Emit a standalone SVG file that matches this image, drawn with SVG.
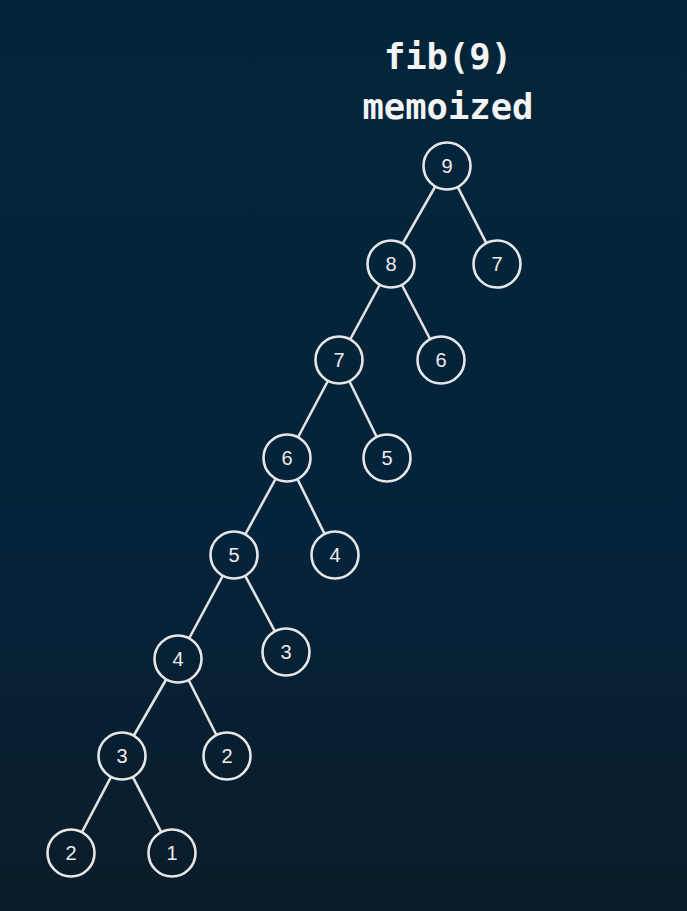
<svg xmlns="http://www.w3.org/2000/svg" width="687" height="911" viewBox="0 0 687 911">
<defs>
<linearGradient id="bg" gradientUnits="userSpaceOnUse" x1="0" y1="0" x2="0" y2="911">
<stop offset="0" stop-color="#03253a"/>
<stop offset="0.6" stop-color="#05233a"/>
<stop offset="1" stop-color="#0b1c29"/>
</linearGradient>
<style>
.title{font-family:"DejaVu Sans Mono","Liberation Mono",monospace;font-weight:bold;font-size:35.5px;fill:#f4f4f4;text-anchor:middle}
.n circle{fill:url(#bg);stroke:#e6e6e6;stroke-width:2.6}
.n text{font-family:"Liberation Sans","Noto Sans",sans-serif;font-size:20px;fill:#ececec;text-anchor:middle;dominant-baseline:central}
#edges line{stroke:#e2e2e2;stroke-width:2.6}
</style>
</defs>
<rect width="687" height="911" fill="url(#bg)"/>
<text class="title" x="448" y="69">fib(9)</text>
<text class="title" x="448" y="119">memoized</text>
<g id="edges">
<line x1="447" y1="166" x2="391" y2="264"/>
<line x1="447" y1="166" x2="497" y2="264"/>
<line x1="391" y1="264" x2="339" y2="360"/>
<line x1="391" y1="264" x2="441" y2="360"/>
<line x1="339" y1="360" x2="287" y2="458"/>
<line x1="339" y1="360" x2="387" y2="458"/>
<line x1="287" y1="458" x2="234" y2="555"/>
<line x1="287" y1="458" x2="335" y2="555"/>
<line x1="234" y1="555" x2="178" y2="659"/>
<line x1="234" y1="555" x2="286" y2="652"/>
<line x1="178" y1="659" x2="122" y2="756"/>
<line x1="178" y1="659" x2="227" y2="756"/>
<line x1="122" y1="756" x2="71" y2="853"/>
<line x1="122" y1="756" x2="172" y2="853"/>
</g>
<g id="n9" class="n"><circle cx="447" cy="166" r="23.5"/><text x="447" y="166">9</text></g>
<g id="n8" class="n"><circle cx="391" cy="264" r="23.5"/><text x="391" y="264">8</text></g>
<g id="n7b" class="n"><circle cx="497" cy="264" r="23.5"/><text x="497" y="264">7</text></g>
<g id="n7" class="n"><circle cx="339" cy="360" r="23.5"/><text x="339" y="360">7</text></g>
<g id="n6b" class="n"><circle cx="441" cy="360" r="23.5"/><text x="441" y="360">6</text></g>
<g id="n6" class="n"><circle cx="287" cy="458" r="23.5"/><text x="287" y="458">6</text></g>
<g id="n5b" class="n"><circle cx="387" cy="458" r="23.5"/><text x="387" y="458">5</text></g>
<g id="n5" class="n"><circle cx="234" cy="555" r="23.5"/><text x="234" y="555">5</text></g>
<g id="n4b" class="n"><circle cx="335" cy="555" r="23.5"/><text x="335" y="555">4</text></g>
<g id="n4" class="n"><circle cx="178" cy="659" r="23.5"/><text x="178" y="659">4</text></g>
<g id="n3b" class="n"><circle cx="286" cy="652" r="23.5"/><text x="286" y="652">3</text></g>
<g id="n3" class="n"><circle cx="122" cy="756" r="23.5"/><text x="122" y="756">3</text></g>
<g id="n2b" class="n"><circle cx="227" cy="756" r="23.5"/><text x="227" y="756">2</text></g>
<g id="n2" class="n"><circle cx="71" cy="853" r="23.5"/><text x="71" y="853">2</text></g>
<g id="n1" class="n"><circle cx="172" cy="853" r="23.5"/><text x="172" y="853">1</text></g>
</svg>
